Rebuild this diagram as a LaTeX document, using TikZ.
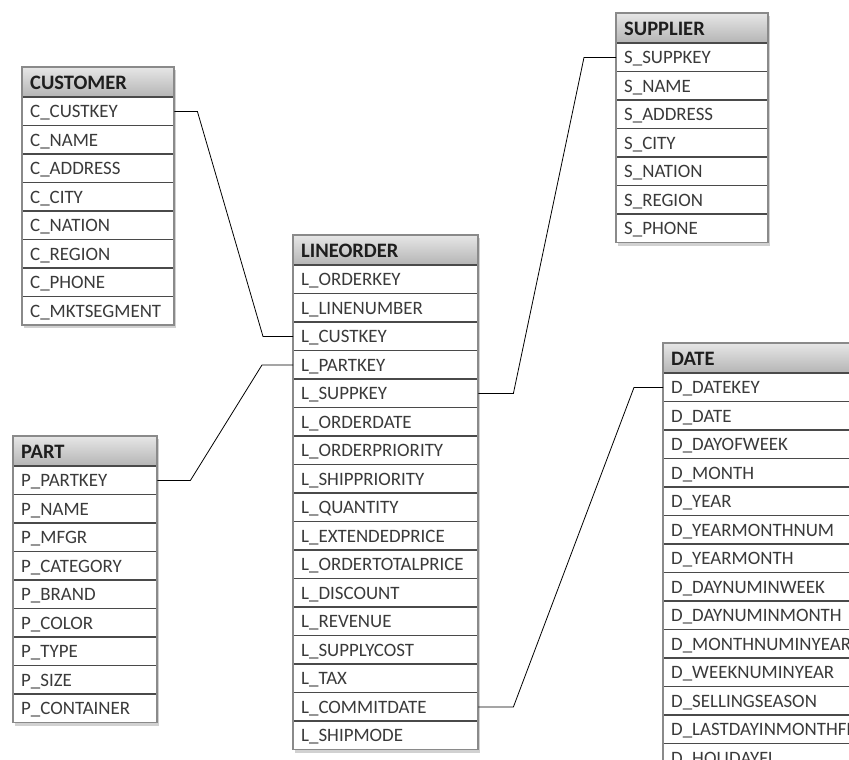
\documentclass[tikz,border=0pt]{standalone}
\usepackage{fontspec}
\setmainfont{Carlito}
\usetikzlibrary{calc}

\definecolor{rowtext}{HTML}{3A3A3A}
\definecolor{headtext}{HTML}{1E1E1E}
\definecolor{sepline}{HTML}{4A4A4A}
\definecolor{framecol}{HTML}{8A8A8A}
\definecolor{headtop}{HTML}{E6E6E6}
\definecolor{headbot}{HTML}{B4B4B4}

\tikzset{
  x=1pt, y=-1pt,
  headbox/.style={rectangle, draw=none, top color=headtop, bottom color=headbot,
    inner xsep=8pt, inner ysep=0pt, minimum height=30pt,
    text height=15pt, text depth=1pt, font=\fontsize{20.5}{22}\selectfont\bfseries,
    text=headtext, anchor=north west},
  rowbox/.style={rectangle, draw=none, fill=white, inner xsep=8pt, inner ysep=0pt,
    minimum height=28.5pt, text height=14pt, text depth=1pt,
    font=\fontsize{18.9}{21}\selectfont, text=rowtext, anchor=north west},
  sepstyle/.style={draw=sepline, line width=1.3pt},
  framestyle/.style={draw=framecol, line width=1.8pt},
  shadowstyle/.style={fill=black!18, draw=none},
  conn/.style={draw=black, line width=0.8pt},
}

% #1 name, #2 x, #3 top y, #4 width, #5 number of rows, #6 title, #7 rows
\newcommand{\erdtable}[7]{%
  \fill[shadowstyle] ({#2+2},{#3+3}) rectangle ++(#4, {30+#5*28.5});
  \node[headbox] (#1-0) at (#2,#3)
    {\makebox[\dimexpr #4pt-16pt\relax][l]{#6}};
  \foreach \r [count=\i] in {#7} {
    \node[rowbox] (#1-\i) at (#2,{#3+30+(\i-1)*28.5})
      {\makebox[\dimexpr #4pt-16pt\relax][l]{\r}};
    \draw[sepstyle] (#1-\i.north west) -- (#1-\i.north east);
  }
  \draw[framestyle] (#2,#3) rectangle ++(#4, {30+#5*28.5});
}

\begin{document}
\begin{tikzpicture}
\useasboundingbox (0,0) rectangle (849,760);
\fill[white] (0,0) rectangle (849,760);
\clip (0,0) rectangle (849,760);

\erdtable{cust}{22}{67}{152}{8}{CUSTOMER}{C\_CUSTKEY, C\_NAME, C\_ADDRESS, C\_CITY,
  C\_NATION, C\_REGION, C\_PHONE, C\_MKTSEGMENT}

\erdtable{part}{13}{436}{144}{9}{PART}{P\_PARTKEY, P\_NAME, P\_MFGR, P\_CATEGORY,
  P\_BRAND, P\_COLOR, P\_TYPE, P\_SIZE, P\_CONTAINER}

\erdtable{line}{293}{235}{185}{17}{LINEORDER}{L\_ORDERKEY, L\_LINENUMBER,
  L\_CUSTKEY, L\_PARTKEY, L\_SUPPKEY, L\_ORDERDATE, L\_ORDERPRIORITY,
  L\_SHIPPRIORITY, L\_QUANTITY, L\_EXTENDEDPRICE, L\_ORDERTOTALPRICE,
  L\_DISCOUNT, L\_REVENUE, L\_SUPPLYCOST, L\_TAX, L\_COMMITDATE, L\_SHIPMODE}

\erdtable{supp}{616}{13}{152}{7}{SUPPLIER}{S\_SUPPKEY, S\_NAME, S\_ADDRESS,
  S\_CITY, S\_NATION, S\_REGION, S\_PHONE}

\erdtable{date}{663}{343}{200}{14}{DATE}{D\_DATEKEY, D\_DATE, D\_DAYOFWEEK,
  D\_MONTH, D\_YEAR, D\_YEARMONTHNUM, D\_YEARMONTH, D\_DAYNUMINWEEK,
  D\_DAYNUMINMONTH, D\_MONTHNUMINYEAR, D\_WEEKNUMINYEAR, D\_SELLINGSEASON,
  D\_LASTDAYINMONTHFL, D\_HOLIDAYFL}

% foreign key links
\draw[conn] (cust-1.east) -- ++(23,0) -- ($(line-3.west)+(-30,0)$) -- (line-3.west);
\draw[conn] (part-1.east) -- ++(33,0) -- ($(line-4.west)+(-31,0)$) -- (line-4.west);
\draw[conn] (line-5.east) -- ++(35,0) -- ($(supp-1.west)+(-32,0)$) -- (supp-1.west);
\draw[conn] (line-16.east) -- ++(35,0) -- ($(date-1.west)+(-29,0)$) -- (date-1.west);
\end{tikzpicture}
\end{document}
